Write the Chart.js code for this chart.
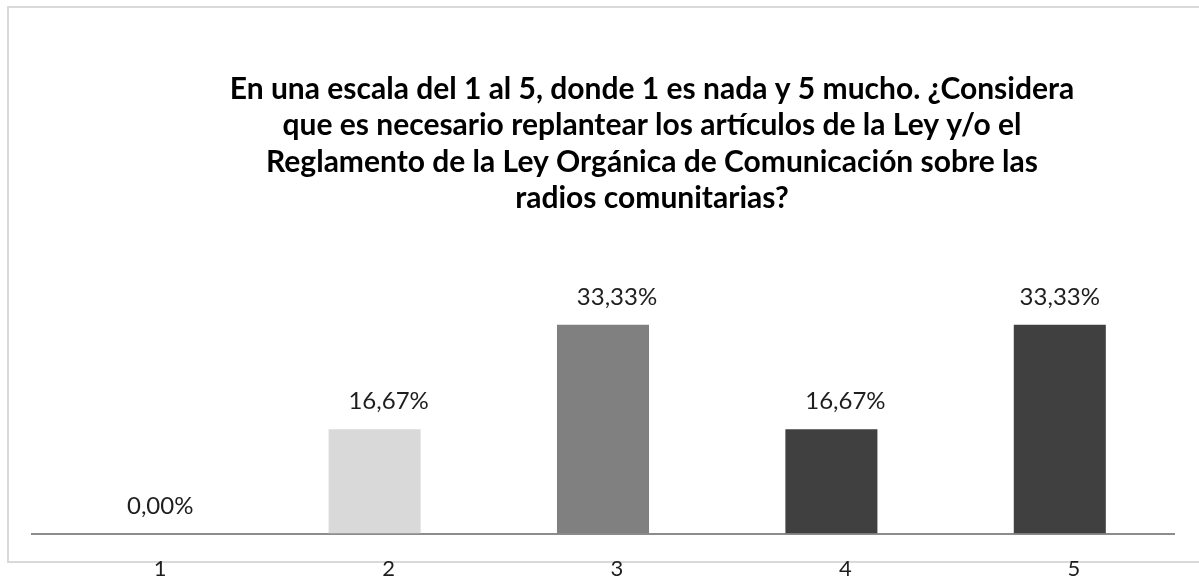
<!DOCTYPE html>
<html>
<head>
<meta charset="utf-8">
<script src="https://cdn.jsdelivr.net/npm/chart.js@4.4.1/dist/chart.umd.min.js"></script>
<style>
  html, body { margin: 0; padding: 0; background: #ffffff; }
  canvas { display: block; }
</style>
</head>
<body>
<canvas id="c" width="1199" height="582"></canvas>
<script>
// ---- data ----
const categories = ['1', '2', '3', '4', '5'];
const percentages = [0.00, 16.67, 33.33, 16.67, 33.33];
const valueLabels = ['0,00%', '16,67%', '33,33%', '16,67%', '33,33%'];
const titleLines = [
  'En una escala del 1 al 5, donde 1 es nada y 5 mucho. ¿Considera',
  'que es necesario replantear los artículos de la Ley y/o el',
  'Reglamento de la Ley Orgánica de Comunicación sobre las',
  'radios comunitarias?'
];

// ---- styles ----
const barColors = ['#f2f2f2', '#d9d9d9', '#808080', '#404040', '#404040'];
const labelShift = [14, 14, 14, 14, 0];

const framePlugin = {
  id: 'frame',
  beforeDraw(chart) {
    const ctx = chart.ctx;
    ctx.save();
    ctx.strokeStyle = '#d9d9d9';
    ctx.lineWidth = 2;
    ctx.strokeRect(8, 7, 1205, 555);
    ctx.restore();
  }
};

const titlePlugin = {
  id: 'titleText',
  afterDraw(chart) {
    const ctx = chart.ctx;
    ctx.save();
    ctx.fillStyle = '#000000';
    ctx.font = 'bold 30px Lato';
    ctx.textAlign = 'center';
    ctx.textBaseline = 'middle';
    titleLines.forEach((line, i) => {
      ctx.fillText(line, 652, 89 + i * 36.5);
    });
    ctx.restore();
  }
};

const valueLabelPlugin = {
  id: 'valueLabels',
  afterDatasetsDraw(chart) {
    const ctx = chart.ctx;
    const meta = chart.getDatasetMeta(0);
    ctx.save();
    ctx.fillStyle = '#1e1e1e';
    ctx.font = '24px Lato';
    ctx.textAlign = 'center';
    ctx.textBaseline = 'alphabetic';
    meta.data.forEach((bar, i) => {
      ctx.fillText(valueLabels[i], bar.x + labelShift[i], bar.y - 20);
    });
    ctx.restore();
  }
};

new Chart(document.getElementById('c'), {
  type: 'bar',
  data: {
    labels: categories,
    datasets: [{
      data: percentages,
      backgroundColor: barColors,
      borderWidth: 0,
      categoryPercentage: 1.0,
      barPercentage: 0.403
    }]
  },
  options: {
    responsive: false,
    animation: false,
    layout: { padding: { left: 32, right: 25, top: 283, bottom: -22 } },
    plugins: {
      legend: { display: false },
      title: { display: false },
      tooltip: { enabled: false }
    },
    scales: {
      x: {
        grid: { display: false, drawTicks: false },
        border: { display: true, color: '#8c8c8c', width: 2 },
        ticks: {
          color: '#1e1e1e',
          font: { family: 'Lato', size: 22 },
          padding: 22,
          labelOffset: 14
        }
      },
      y: {
        display: false,
        min: 0,
        max: 40
      }
    }
  },
  plugins: [framePlugin, titlePlugin, valueLabelPlugin]
});
</script>
</body>
</html>
